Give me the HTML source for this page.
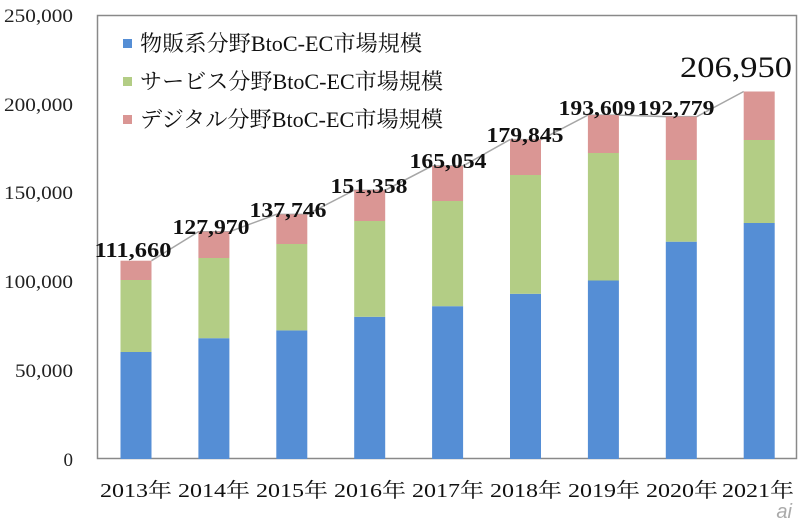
<!DOCTYPE html>
<html><head><meta charset="utf-8"><style>body{margin:0;background:#fff}svg{display:block}</style></head><body>
<svg width="800" height="523" xmlns="http://www.w3.org/2000/svg" font-family="'Liberation Serif','Noto Serif CJK SC',serif">
<rect x="97.5" y="15.5" width="699" height="443" fill="none" stroke="#898989" stroke-width="1.5"/>
<g font-size="19" fill="#222" text-anchor="end">
<text x="73" y="466">0</text>
<text x="73" y="377" textLength="58" lengthAdjust="spacingAndGlyphs">50,000</text>
<text x="73" y="288" textLength="69" lengthAdjust="spacingAndGlyphs">100,000</text>
<text x="73" y="199" textLength="69" lengthAdjust="spacingAndGlyphs">150,000</text>
<text x="73" y="111" textLength="69" lengthAdjust="spacingAndGlyphs">200,000</text>
<text x="73" y="22" textLength="69" lengthAdjust="spacingAndGlyphs">250,000</text>
</g>
<polyline fill="none" stroke="#a6a6a6" stroke-width="1.5" points="151.5,260.7 198.4,231.7 229.4,231.7 276.3,214.4 307.3,214.4 354.2,190.2 385.2,190.2 432.1,165.9 463.1,165.9 510,139.6 541,139.6 587.9,115.1 618.9,115.1 665.8,116.6 696.8,116.6 743.7,91.5"/>
<g>
<rect x="120.5" y="352" width="31" height="107" fill="#558ed5"/><rect x="120.5" y="280" width="31" height="72" fill="#b3cd85"/><rect x="120.5" y="260.7" width="31" height="19.3" fill="#da9694"/>
<rect x="198.4" y="338.2" width="31" height="120.8" fill="#558ed5"/><rect x="198.4" y="258" width="31" height="80.2" fill="#b3cd85"/><rect x="198.4" y="231.7" width="31" height="26.3" fill="#da9694"/>
<rect x="276.3" y="330.4" width="31" height="128.6" fill="#558ed5"/><rect x="276.3" y="244" width="31" height="86.4" fill="#b3cd85"/><rect x="276.3" y="214.4" width="31" height="29.6" fill="#da9694"/>
<rect x="354.2" y="316.8" width="31" height="142.2" fill="#558ed5"/><rect x="354.2" y="221" width="31" height="95.8" fill="#b3cd85"/><rect x="354.2" y="190.2" width="31" height="30.8" fill="#da9694"/>
<rect x="432.1" y="306.2" width="31" height="152.8" fill="#558ed5"/><rect x="432.1" y="201" width="31" height="105.2" fill="#b3cd85"/><rect x="432.1" y="165.9" width="31" height="35.1" fill="#da9694"/>
<rect x="510" y="293.8" width="31" height="165.2" fill="#558ed5"/><rect x="510" y="175" width="31" height="118.8" fill="#b3cd85"/><rect x="510" y="139.6" width="31" height="35.4" fill="#da9694"/>
<rect x="587.9" y="280.5" width="31" height="178.5" fill="#558ed5"/><rect x="587.9" y="153" width="31" height="127.5" fill="#b3cd85"/><rect x="587.9" y="115.1" width="31" height="37.9" fill="#da9694"/>
<rect x="665.8" y="241.7" width="31" height="217.3" fill="#558ed5"/><rect x="665.8" y="160" width="31" height="81.7" fill="#b3cd85"/><rect x="665.8" y="116.6" width="31" height="43.4" fill="#da9694"/>
<rect x="743.7" y="223" width="31" height="236" fill="#558ed5"/><rect x="743.7" y="140" width="31" height="83" fill="#b3cd85"/><rect x="743.7" y="91.5" width="31" height="48.5" fill="#da9694"/>
</g>
<g font-size="21" fill="#111" text-anchor="middle" font-weight="bold" lengthAdjust="spacingAndGlyphs">
<text x="133" y="257" textLength="77" lengthAdjust="spacingAndGlyphs">111,660</text>
<text x="211" y="234" textLength="77" lengthAdjust="spacingAndGlyphs">127,970</text>
<text x="288" y="217" textLength="77" lengthAdjust="spacingAndGlyphs">137,746</text>
<text x="369" y="193" textLength="77" lengthAdjust="spacingAndGlyphs">151,358</text>
<text x="448" y="168" textLength="77" lengthAdjust="spacingAndGlyphs">165,054</text>
<text x="525" y="142" textLength="77" lengthAdjust="spacingAndGlyphs">179,845</text>
<text x="597" y="115" textLength="77" lengthAdjust="spacingAndGlyphs">193,609</text>
<text x="676" y="115" textLength="77" lengthAdjust="spacingAndGlyphs">192,779</text>
<text x="736" y="77" font-size="30" font-weight="normal" textLength="112" lengthAdjust="spacingAndGlyphs">206,950</text>
</g>
<g font-size="20" fill="#111" text-anchor="middle">
<text x="136" y="497" textLength="72" lengthAdjust="spacingAndGlyphs">2013年</text><text x="214" y="497" textLength="72" lengthAdjust="spacingAndGlyphs">2014年</text><text x="292" y="497" textLength="72" lengthAdjust="spacingAndGlyphs">2015年</text><text x="370" y="497" textLength="72" lengthAdjust="spacingAndGlyphs">2016年</text><text x="448" y="497" textLength="72" lengthAdjust="spacingAndGlyphs">2017年</text><text x="526" y="497" textLength="72" lengthAdjust="spacingAndGlyphs">2018年</text><text x="604" y="497" textLength="72" lengthAdjust="spacingAndGlyphs">2019年</text><text x="682" y="497" textLength="72" lengthAdjust="spacingAndGlyphs">2020年</text><text x="758" y="497" textLength="72" lengthAdjust="spacingAndGlyphs">2021年</text>
</g>
<g font-size="22" fill="#111">
<rect x="123" y="39" width="9" height="9" fill="#558ed5"/><text x="140" y="51" textLength="282" lengthAdjust="spacingAndGlyphs">物販系分野BtoC-EC市場規模</text>
<rect x="123" y="77" width="9" height="9" fill="#b3cd85"/><text x="140" y="89" textLength="303" lengthAdjust="spacingAndGlyphs">サービス分野BtoC-EC市場規模</text>
<rect x="123" y="115" width="9" height="9" fill="#da9694"/><text x="140" y="127" textLength="303" lengthAdjust="spacingAndGlyphs">デジタル分野BtoC-EC市場規模</text>
</g>
<text x="792" y="518" font-size="20" fill="#aaa" font-style="italic" font-family="'Liberation Sans',sans-serif" text-anchor="end">ai</text>
</svg>
</body></html>
